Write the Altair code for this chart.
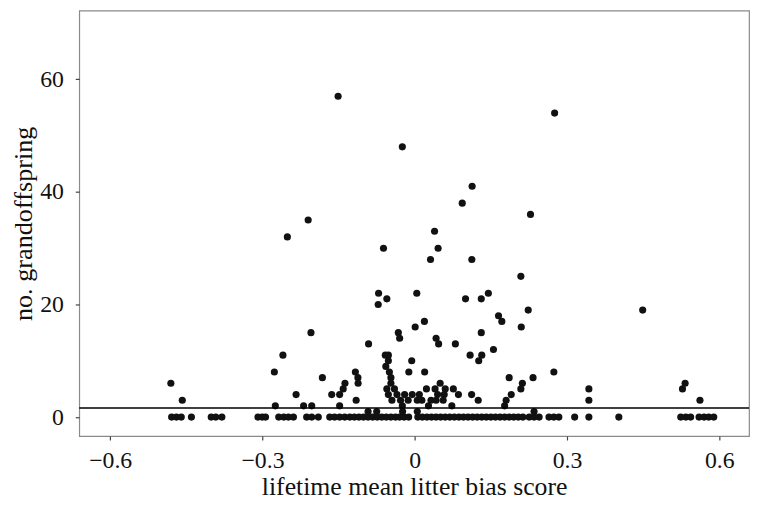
import altair as alt
import pandas as pd

# Points with at least one grandoffspring (bias score, count)
bias_nonzero = [
    -0.151, -0.0245, 0.2755, 0.113, 0.0935, 0.228, -0.210, -0.251, 0.039, -0.0616,
    0.046, 0.031, 0.1124, 0.209, -0.0713, -0.055, -0.072, 0.004, 0.100, 0.131,
    0.145, 0.2235, 0.449, 0.165, 0.1715, 0.019, 0.0008, 0.2098, -0.2045, -0.0324,
    0.131, -0.0298, 0.042, -0.091, 0.047, 0.080, 0.155, -0.2597, -0.058, -0.052,
    0.109, 0.132, -0.052, -0.006, 0.126, -0.057,
    -0.4805, -0.458,
    -0.2766, -0.2747, -0.2338, -0.219, -0.203, -0.182, -0.1636, -0.148, -0.141, -0.1375, -0.148,
    -0.117, -0.112, -0.1116, -0.1155,
    -0.050, -0.047, -0.047, -0.055, -0.052, -0.045, -0.035, -0.028, -0.0245, -0.040,
    -0.0117, 0.0195, 0.050, 0.040, 0.060, 0.045, 0.058, 0.042, 0.056,
    0.023, 0.009, 0.014, -0.013, 0.027, 0.073, 0.076, 0.086, 0.112, 0.125,
    0.186, 0.212, 0.209, 0.190, 0.180, 0.177,
    0.233, 0.274, 0.343, 0.343,
    0.5326, 0.5274, 0.5618,
    -0.092, -0.024, 0.235, 0.005, -0.075,
    -0.020, -0.005, 0.005, 0.032,
]
grand_nonzero = [
    57, 48, 54, 41, 38, 36, 35, 32, 33, 30,
    30, 28, 28, 25, 22, 21, 20, 22, 21, 21,
    22, 19, 19, 18, 17, 17, 16, 16, 15, 15,
    15, 14, 14, 13, 13, 13, 12, 11, 11, 11,
    11, 11, 10, 10, 10, 9,
    6, 3,
    8, 2, 4, 2, 2, 7, 4, 4, 5, 6, 2,
    8, 7, 6, 3,
    8, 7, 6, 5, 4, 3, 4, 3, 2, 5,
    8, 8, 6, 5, 5, 4, 4, 3, 3,
    5, 4, 3, 3, 2, 2, 5, 4, 4, 3,
    7, 6, 5, 4, 3, 2,
    7, 8, 5, 3,
    6, 5, 3,
    1, 1, 1, 1, 1,
    4, 4, 3, 3,
]

# Points with zero grandoffspring (bias score only)
bias_zero = [
    -0.479, -0.4695, -0.46, -0.440, -0.401, -0.392, -0.380,
    -0.309, -0.3006, -0.294, -0.268, -0.258, -0.249, -0.239,
    -0.213, -0.203, -0.190, -0.1675, -0.158, -0.148, -0.138,
    -0.128, -0.119, -0.110, -0.101, -0.092, -0.083, -0.074, -0.065, -0.056,
    -0.047, -0.038, -0.030, -0.021, -0.012, 0.006, 0.015, 0.024, 0.033,
    0.042, 0.051, 0.060, 0.069, 0.078, 0.087, 0.096, 0.105, 0.114, 0.123,
    0.132, 0.141, 0.150, 0.159, 0.168, 0.177, 0.186, 0.195, 0.204, 0.213,
    0.2254, 0.235, 0.245, 0.2644, 0.274, 0.2838,
    0.315, 0.343, 0.402, 0.524, 0.534, 0.5435, 0.560, 0.570, 0.579, 0.589,
]

ref_line = [1.6]
x_ticks = [-0.6, -0.3, 0, 0.3, 0.6]
y_ticks = [0, 20, 40, 60]

df = pd.DataFrame({
    "bias": bias_nonzero + bias_zero,
    "grand": grand_nonzero + [0] * len(bias_zero),
})
line_df = pd.DataFrame({"h": ref_line})

FONT = "Liberation Serif"

xscale = alt.Scale(domain=[-0.661, 0.6585], nice=False, zero=False)
yscale = alt.Scale(domain=[-3.37, 72.2], nice=False, zero=False)

points = alt.Chart(df).mark_circle(size=52, color="#111111", opacity=1).encode(
    x=alt.X("bias:Q", scale=xscale,
            axis=alt.Axis(title="lifetime mean litter bias score", values=x_ticks,
                          format=".1~f", grid=False, domain=False,
                          tickSize=4, tickColor="#444444", tickWidth=1.2,
                          labelFont=FONT, labelFontSize=24, labelColor="#111111",
                          labelPadding=9,
                          titleFont=FONT, titleFontSize=26, titleFontWeight="normal",
                          titleColor="#111111", titleBaseline="alphabetic", titleY=59)),
    y=alt.Y("grand:Q", scale=yscale,
            axis=alt.Axis(title="no. grandoffspring", values=y_ticks,
                          grid=False, domain=False,
                          tickSize=4, tickColor="#444444", tickWidth=1.2,
                          labelFont=FONT, labelFontSize=24, labelColor="#111111",
                          labelPadding=12,
                          titleFont=FONT, titleFontSize=26.5, titleFontWeight="normal",
                          titleColor="#111111", titleBaseline="alphabetic",
                          titleX=-48, titleY=215)),
)

rule = alt.Chart(line_df).mark_rule(color="#000000", strokeWidth=1.6).encode(
    y=alt.Y("h:Q", scale=yscale)
)

chart = (points + rule).properties(
    width=677, height=430,
    autosize=alt.AutoSizeParams(type="none"),
    padding={"left": 72, "top": 0, "right": 3, "bottom": 64},
).configure_view(stroke="#8a8a8a", strokeWidth=1.2)

chart.save("out.html", embed_options={"renderer": "svg", "actions": False})
